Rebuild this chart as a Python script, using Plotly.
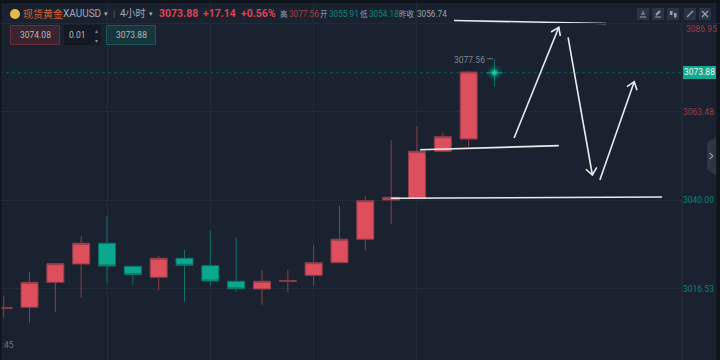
import plotly.graph_objects as go

# Bars, in time order (red = up, green = down)
bar_index = list(range(20))
opens = [3011.40, 3011.67, 3018.30, 3023.16, 3028.65, 3022.55, 3019.63, 3024.67, 3022.71, 3018.57,
         3016.53, 3018.55, 3020.16, 3023.50, 3029.71, 3040.13, 3040.58, 3053.05, 3056.31, 3073.90]
highs = [3014.75, 3020.95, 3023.42, 3030.58, 3035.89, 3022.63, 3025.36, 3026.87, 3031.91, 3030.32,
         3021.57, 3021.57, 3028.20, 3038.54, 3041.19, 3056.05, 3059.76, 3057.98, 3074.35, 3077.56]
lows = [3008.91, 3007.43, 3010.42, 3014.22, 3018.04, 3017.67, 3016.18, 3013.16, 3017.40, 3015.81,
        3012.36, 3015.65, 3017.40, 3023.34, 3026.68, 3033.69, 3040.53, 3052.86, 3054.19, 3070.11]
closes = [3011.57, 3018.30, 3023.24, 3028.65, 3022.63, 3020.32, 3024.67, 3022.81, 3018.65, 3016.60,
          3018.57, 3018.73, 3023.50, 3029.71, 3039.95, 3040.85, 3053.05, 3056.92, 3074.08, 3073.88]

price_ticks = [3016.53, 3040.00, 3063.48]
tick_labels = ["3016.53", "3040.00", "3063.48"]
tick_colors = ["#0b8272", "#0b8272", "#a23a49"]
top_tick = "3086.95"
last_price = 3073.88
high_price = 3077.56
time_grid = [4, 8, 12, 16]

# Hand-drawn strokes: (bar index list, price list)
strokes = [
    ([17.43, 23.32], [3087.75, 3086.95]),
    ([16.12, 21.49], [3053.45, 3054.54]),
    ([14.99, 25.49], [3040.58, 3040.93]),
    ([19.76, 21.49], [3056.58, 3085.94]),
    ([21.19, 21.49, 21.55], [3084.69, 3085.94, 3083.63]),
    ([21.85, 22.79], [3083.24, 3046.76]),
    ([22.54, 22.79, 22.96], [3048.28, 3046.76, 3048.81]),
    ([23.08, 24.41], [3045.44, 3071.51]),
    ([24.13, 24.41, 24.52], [3070.19, 3071.51, 3069.23]),
]

W, H, RIGHT = 720, 360, 682
BG = "#1a222f"
GRID = "#212c38"
RED = "#dd4f5c"
GREEN = "#0aa88e"
MUTED = "#9aa2ae"
ICON = "#98a1ad"
FONT = "Roboto, 'Noto Sans CJK SC', sans-serif"


def fx(px):
    return px / RIGHT


def fy(py):
    return 1 - py / H


fig = go.Figure()
fig.add_trace(go.Candlestick(
    x=bar_index, open=opens, high=highs, low=lows, close=closes,
    increasing=dict(line=dict(color="#8f3d4b", width=1), fillcolor=RED),
    decreasing=dict(line=dict(color="#0b7367", width=1), fillcolor=GREEN),
    whiskerwidth=0, hoverinfo="skip", showlegend=False,
))
for size, opacity in ((15, 0.10), (10, 0.22), (6, 0.55), (3, 1)):
    fig.add_trace(go.Scatter(
        x=[bar_index[-1]], y=[last_price], mode="markers",
        marker=dict(size=size, color="#12d8a9", opacity=opacity, line=dict(width=0)),
        hoverinfo="skip", showlegend=False,
    ))
for xs, ys in strokes:
    fig.add_trace(go.Scatter(
        x=xs, y=ys, mode="lines", line=dict(color="#e9ebee", width=1.6),
        hoverinfo="skip", showlegend=False,
    ))

shapes = [
    # header, drawn over the grid but under the marks
    dict(type="rect", xref="x domain", yref="paper", x0=0, x1=1, y0=fy(23), y1=1,
         fillcolor=BG, line_width=0, layer="below"),
    dict(type="line", xref="x domain", yref="y", x0=0, x1=1, y0=last_price, y1=last_price,
         line=dict(color="#0d5c54", width=1, dash="dot"), layer="below"),
]


def rect(x0, y0, x1, y1, fill, border=None, layer="above"):
    shapes.append(dict(type="rect", xref="paper", yref="paper", x0=fx(x0), x1=fx(x1),
                       y0=fy(y1), y1=fy(y0), fillcolor=fill, layer=layer,
                       line=dict(color=border or fill, width=1 if border else 0)))


def line(x0, y0, x1, y1, color, width=1):
    shapes.append(dict(type="line", xref="paper", yref="paper", x0=fx(x0), x1=fx(x1),
                       y0=fy(y0), y1=fy(y1), line=dict(color=color, width=width)))


rect(0, 0, 720, 3, "#10151d")
rect(0, 0, 1.5, 360, "#10151d")
rect(716.5, 0, 720, 360, "#10151d")
line(0, 23.5, 720, 23.5, "#212b38")
line(RIGHT, 23.5, RIGHT, 360, "#263140")

# order-ticket boxes
rect(10.5, 25.5, 59.5, 44.5, "#39242f", "#6b2f3c")
rect(64, 25, 101, 45, "#141a24")
rect(106.5, 25.5, 155.5, 44.5, "#17363c", "#1b5a54")

# logo
shapes.append(dict(type="circle", xref="paper", yref="paper", x0=fx(10), x1=fx(20),
                   y0=fy(19), y1=fy(9), fillcolor="#e9b84c", line_width=0))

# toolbar buttons
for bx in (637, 652, 667, 684, 699):
    rect(bx, 8, bx + 12, 20, "#2b3443")
line(640, 17, 646, 17, ICON)
line(641, 14, 645, 14, ICON)
line(643, 11, 643, 14, ICON)
line(655, 17, 661, 17, ICON)
line(656, 15, 660, 11, ICON, 2)
rect(670, 11, 672.5, 15, ICON)
rect(674, 13, 676.5, 17.5, ICON)
line(687, 17, 693, 11, ICON, 1.3)
line(702, 11, 708, 17, ICON, 1.3)
line(708, 11, 702, 17, ICON, 1.3)

# side tab
shapes.append(dict(type="path", xref="paper", yref="paper",
                   path=f"M {fx(716)} {fy(137)} L {fx(709)} {fy(141)} L {fx(707)} {fy(144)} "
                        f"L {fx(707)} {fy(169)} L {fx(710)} {fy(172)} L {fx(716)} {fy(175)} Z",
                   fillcolor="#2d3542", line_width=0))
line(709.5, 153, 713, 156, "#8d95a1", 1.2)
line(713, 156, 709.5, 159, "#8d95a1", 1.2)

# dotted leader to the high label
line(487, 58.7, 493, 58.7, "#6e7784", 1)

# last-price tag
rect(683, 66, 716, 79, "#10a88e")


annotations = []


def text(px, py, s, color=MUTED, size=9, anchor="left", bold=False):
    annotations.append(dict(
        xref="paper", yref="paper", x=fx(px - 1 if anchor == "left" else px), y=fy(py),
        text=f"<b>{s}</b>" if bold else s,
        showarrow=False, xanchor=anchor, yanchor="middle", borderpad=0,
        font=dict(family=FONT, color=color, size=size),
    ))


text(22.5, 14, "现货黄金", "#d4642f", 10)
text(63, 14, "XAUUSD", "#a2a9b4", 10)
text(106, 14, "▾", "#a2a9b4", 7, "center")
text(114, 14, "|", "#5a6370", 9, "center")
text(120, 14, "4小时", "#a2a9b4", 10)
text(151, 14, "▾", "#a2a9b4", 7, "center")
text(159, 14, "3073.88", "#dc4453", 10.5, bold=True)
text(203, 14, "+17.14", "#dc4453", 10.5, bold=True)
text(241, 14, "+0.56%", "#dc4453", 10.5, bold=True)
text(280, 14.5, "高", MUTED, 7.5)
text(289, 14.5, "3077.56", "#a83c4b", 8.2)
text(320, 14.5, "开", MUTED, 7.5)
text(329, 14.5, "3055.91", "#0b8a78", 8.2)
text(360, 14.5, "低", MUTED, 7.5)
text(369, 14.5, "3054.18", "#0b8a78", 8.2)
text(399, 14.5, "昨收", MUTED, 7.5)
text(417, 14.5, "3056.74", MUTED, 8.2)
text(35, 35, "3074.08", "#b9b3ba", 8.5, "center")
text(77, 35, "0.01", "#b4bac3", 8.5, "center")
text(96, 30, "▴", "#7f8894", 6, "center")
text(96, 40, "▾", "#7f8894", 6, "center")
text(131, 35, "3073.88", "#aeb9bb", 8.5, "center")
text(685.5, 29, top_tick, "#a23a49", 8.5)
text(699.5, 72.5, f"{last_price:.2f}", "#eef5f3", 8.5, "center")
text(486, 60, f"{high_price:.2f}", "#7d8592", 8.5, "right")
text(2, 345, ":45", "#6d7582", 8.5, "left")

fig.update_layout(
    width=W, height=H, margin=dict(l=0, r=W - RIGHT, t=0, b=0),
    paper_bgcolor=BG, plot_bgcolor=BG, showlegend=False, boxgap=0.06,
    font=dict(family=FONT),
    shapes=shapes, annotations=annotations,
    xaxis=dict(range=[-0.143, 26.26], tickvals=time_grid, showticklabels=False, ticks="",
               showgrid=True, gridcolor=GRID, gridwidth=1, zeroline=False,
               rangeslider=dict(visible=False), fixedrange=True),
    yaxis=dict(range=[2997.69, 3093.18], side="right", tickvals=price_ticks,
               ticktext=[f'<span style="color:{c}">{t}</span>' for t, c in zip(tick_labels, tick_colors)],
               tickfont=dict(family=FONT, size=8.5), ticks="", showgrid=True, gridcolor=GRID,
               gridwidth=1, zeroline=False, showline=False, automargin=False, fixedrange=True),
)
fig.write_html("out.html", config=dict(displayModeBar=False),
               post_script="document.body.style.margin='0';document.body.style.background='#1a222f';")
